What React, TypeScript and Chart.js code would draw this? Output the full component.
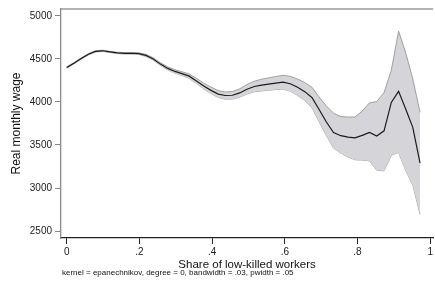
import React, { useEffect, useRef } from "react";
import { Chart, registerables } from "chart.js";

Chart.register(...registerables);

// Evaluation grid (share of low-skilled workers)
const xGrid = [
  0.0, 0.02, 0.04, 0.06, 0.079, 0.099, 0.119, 0.139, 0.159, 0.179,
  0.198, 0.218, 0.238, 0.258, 0.278, 0.298, 0.317, 0.337, 0.357, 0.377,
  0.397, 0.417, 0.436, 0.456, 0.476, 0.496, 0.516, 0.536, 0.555, 0.575,
  0.595, 0.615, 0.635, 0.655, 0.675, 0.694, 0.714, 0.734, 0.754, 0.774,
  0.793, 0.813, 0.833, 0.853, 0.873, 0.893, 0.913, 0.932, 0.952, 0.972,
];

// Local polynomial smooth of real monthly wage
const meanWage = [
  4400, 4450, 4505, 4555, 4588, 4595, 4582, 4570, 4566, 4566,
  4562, 4542, 4500, 4440, 4390, 4355, 4330, 4300, 4245, 4185,
  4135, 4092, 4075, 4078, 4105, 4148, 4180, 4196, 4208, 4220,
  4230, 4212, 4172, 4120, 4050, 3915, 3770, 3645, 3608, 3592,
  3582, 3612, 3645, 3605, 3665, 3995, 4124, 3925, 3705, 3290,
];

// 95% confidence band, upper edge
const upperCI = [
  4408, 4457, 4512, 4562, 4595, 4602, 4589, 4578, 4574, 4575,
  4572, 4554, 4514, 4456, 4408, 4375, 4352, 4326, 4275, 4219,
  4173, 4132, 4117, 4122, 4153, 4203, 4242, 4264, 4280, 4296,
  4310, 4298, 4267, 4225, 4170, 4060, 3955, 3870, 3830, 3825,
  3825, 3895, 3990, 4005, 4110, 4370, 4824, 4580, 4270, 3880,
];

// 95% confidence band, lower edge
const lowerCI = [
  4392, 4443, 4498, 4548, 4581, 4588, 4575, 4562, 4558, 4557,
  4552, 4530, 4486, 4424, 4372, 4335, 4308, 4274, 4215, 4151,
  4097, 4052, 4033, 4034, 4057, 4093, 4118, 4128, 4136, 4144,
  4150, 4126, 4077, 4015, 3930, 3775, 3610, 3465, 3405, 3360,
  3328, 3325, 3315, 3205, 3200, 3380, 3414, 3210, 3035, 2695,
];

const xTickValues = [0, 0.2, 0.4, 0.6, 0.8, 1];
const xTickLabels = ["0", ".2", ".4", ".6", ".8", "1"];
const yTickValues = [2500, 3000, 3500, 4000, 4500, 5000];
const yTickLabels = ["2500", "3000", "3500", "4000", "4500", "5000"];

const xTitle = "Share of low-killed workers";
const yTitle = "Real monthly wage";
const noteText = "kernel = epanechnikov, degree = 0, bandwidth = .03, pwidth = .05";

const FONT = '"Liberation Sans", Arial, Helvetica, sans-serif';

export default function App() {
  const ref = useRef<HTMLCanvasElement | null>(null);

  useEffect(() => {
    if (!ref.current) return;
    const pts = (ys: number[]) => xGrid.map((x, i) => ({ x, y: ys[i] }));

    const framePlugin = {
      id: "frameAndNote",
      afterDraw(chart: any) {
        const { ctx, chartArea } = chart;
        ctx.save();
        ctx.strokeStyle = "#9a9a9a";
        ctx.lineWidth = 1.5;
        ctx.beginPath();
        ctx.moveTo(chartArea.left, chartArea.top);
        ctx.lineTo(chartArea.right, chartArea.top);
        ctx.stroke();
        ctx.fillStyle = "#111";
        ctx.font = `8px ${FONT}`;
        ctx.textAlign = "left";
        ctx.textBaseline = "middle";
        ctx.fillText(noteText, 62, 273);
        ctx.restore();
      },
    };

    const chart = new Chart(ref.current, {
      type: "line",
      data: {
        datasets: [
          {
            data: pts(upperCI),
            borderColor: "#8e8e8e",
            borderWidth: 0.8,
            backgroundColor: "#d5d5d9",
            fill: "+1",
            pointRadius: 0,
            tension: 0,
            order: 1,
          },
          {
            data: pts(lowerCI),
            borderColor: "#8e8e8e",
            borderWidth: 0.8,
            fill: false,
            pointRadius: 0,
            tension: 0,
            order: 2,
          },
          {
            data: pts(meanWage),
            borderColor: "#1c1c1c",
            borderWidth: 1.2,
            fill: false,
            pointRadius: 0,
            tension: 0,
            order: 0,
          },
        ],
      },
      options: {
        animation: false,
        responsive: false,
        layout: { padding: { top: 7, left: 0, right: 0, bottom: 0 }, autoPadding: false },
        plugins: {
          legend: { display: false },
          tooltip: { enabled: false },
        },
        scales: {
          x: {
            type: "linear",
            min: -0.0156,
            max: 1.008,
            afterBuildTicks: (s: any) => {
              s.ticks = xTickValues.map((v) => ({ value: v }));
            },
            afterFit: (s: any) => {
              s.height = 51;
            },
            ticks: {
              callback: (_v: any, i: number) => xTickLabels[i],
              font: { family: FONT, size: 10 },
              color: "#222",
              padding: 2,
              maxRotation: 0,
              autoSkip: false,
            },
            grid: { drawOnChartArea: false, tickLength: 6, tickColor: "#222", tickWidth: 1 },
            border: { color: "#222", width: 1.3 },
            title: {
              display: true,
              text: xTitle,
              font: { family: FONT, size: 11.5 },
              color: "#111",
              padding: { top: 0, bottom: 17.4 },
            },
          },
          y: {
            type: "linear",
            min: 2419,
            max: 5080.6,
            afterBuildTicks: (s: any) => {
              s.ticks = yTickValues.map((v) => ({ value: v }));
            },
            afterFit: (s: any) => {
              s.width = 61;
            },
            ticks: {
              callback: (_v: any, i: number) => yTickLabels[i],
              font: { family: FONT, size: 10 },
              color: "#222",
              padding: 3,
              autoSkip: false,
            },
            grid: { drawOnChartArea: false, tickLength: 6, tickColor: "#888", tickWidth: 1 },
            border: { color: "#8a8a8a", width: 1.3 },
            title: {
              display: true,
              text: yTitle,
              font: { family: FONT, size: 12 },
              color: "#111",
              padding: { top: 9.3, bottom: 0 },
            },
          },
        },
      },
      plugins: [framePlugin],
    } as any);

    return () => chart.destroy();
  }, []);

  return (
    <div style={{ position: "fixed", left: 0, top: 0, width: 435, height: 289, background: "#fff" }}>
      <canvas ref={ref} width={435} height={289} style={{ width: 435, height: 289, display: "block" }} />
    </div>
  );
}
